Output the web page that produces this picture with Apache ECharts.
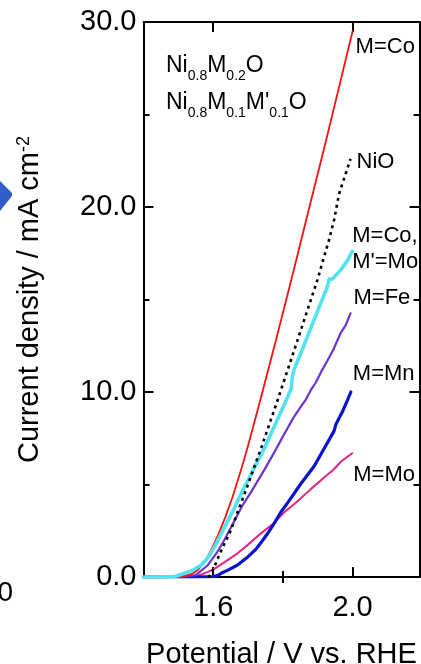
<!DOCTYPE html>
<html>
<head>
<meta charset="utf-8">
<script src="https://cdn.jsdelivr.net/npm/echarts@6/dist/echarts.min.js"></script>
<style>
html,body{margin:0;padding:0;background:#fff;}
#chart{width:421px;height:664px;}
</style>
</head>
<body>
<div id="chart"></div>
<script>
// ---- data (potential in V vs RHE, current density in mA cm^-2) ----
const coV = [1.40,1.45,1.50,1.52,1.54,1.556,1.575,1.594,1.615,1.635,1.656,1.68,1.70,1.74,1.78,1.83,1.88,1.92,1.96,2.0];
const coJ = [0,0,0.02,0.06,0.18,0.38,0.8,1.45,2.3,3.25,4.35,5.8,7.1,9.9,12.8,16.5,20.3,23.3,26.4,29.5];

const nioV = [1.585,1.592,1.60,1.62,1.651,1.694,1.74,1.785,1.842,1.87,1.899,1.918,1.932,1.947,1.961,1.975,1.994];
const nioJ = [0,0.1,0.4,1.3,2.54,4.7,7.1,9.57,12.8,14.4,16.05,17.3,18.2,19.3,20.7,21.5,22.6];

const comoV = [1.40,1.45,1.49,1.518,1.545,1.566,1.585,1.604,1.63,1.66,1.685,1.71,1.75,1.794,1.813,1.824,1.827,1.832,1.86,1.90,1.928,1.933,1.937,1.942,1.966,1.985,1.999];
const comoJ = [0,0,0.03,0.2,0.4,0.65,1.05,1.64,2.6,3.7,4.7,5.6,7.1,8.9,9.7,10.2,10.8,11.2,12.5,14.4,15.7,16.1,16.05,16.1,16.6,17.1,17.6];

const feV = [1.40,1.50,1.55,1.585,1.61,1.632,1.66,1.685,1.709,1.75,1.78,1.80,1.83,1.851,1.866,1.88,1.894,1.91,1.928,1.945,1.966,1.98,1.994];
const feJ = [0,0,0.1,0.65,1.3,2.0,3.0,3.9,4.6,5.9,6.9,7.6,8.6,9.2,9.6,10.1,10.5,11.1,11.7,12.3,13.2,13.6,14.25];

const mnV = [1.40,1.55,1.60,1.612,1.623,1.645,1.67,1.70,1.72,1.737,1.756,1.775,1.794,1.815,1.85,1.89,1.92,1.947,1.952,1.97,1.985,1.995];
const mnJ = [0,0,0.02,0.08,0.2,0.4,0.65,1.1,1.45,1.85,2.35,2.9,3.5,4.05,5.0,6.0,7.0,7.9,8.25,8.9,9.55,10.0];

const moV = [1.40,1.55,1.575,1.60,1.613,1.64,1.67,1.70,1.737,1.77,1.804,1.842,1.88,1.92,1.945,1.966,1.985,1.999];
const moJ = [0,0.02,0.2,0.4,0.56,0.9,1.28,1.75,2.36,2.85,3.5,4.1,4.75,5.4,5.8,6.23,6.5,6.69];

const seriesNames = ['M=Mo','M=Mn','M=Fe','M=Co','M=Co,\nM\'=Mo','NiO'];
const xMajorTicks = [1.6, 2.0];
const xMinorTicks = [1.8];
const xTitle = 'Potential / V vs. RHE';
const yTitle = 'Current density / mA cm{sup|-2}';

// ---- chart ----
const FONT = "'Liberation Sans', Arial, Helvetica, sans-serif";
const pairs = (xs, ys) => xs.map((x, i) => [x, ys[i]]);
const chart = echarts.init(document.getElementById('chart'), null, {renderer: 'canvas'});

const xBase = {
  type: 'value', min: 1.4, max: 2.192, interval: 0.2, gridIndex: 0,
  splitLine: {show: false}
};
const axisLineStyle = {show: true, onZero: false, lineStyle: {color: '#000', width: 2}};

function lineSeries(name, xs, ys, color, width, extra, lbl) {
  return Object.assign({
    name: name, type: 'line', data: pairs(xs, ys), xAxisIndex: 0, yAxisIndex: 0,
    showSymbol: false, symbol: 'none', smooth: false,
    lineStyle: {color: color, width: width, join: 'round', cap: 'round'},
    endLabel: Object.assign({
      show: true, formatter: name, color: '#000', fontSize: 22, fontFamily: FONT,
      lineHeight: 26
    }, lbl)
  }, extra || {});
}

const richLegend = {
  n: {fontSize: 23, fontFamily: FONT, verticalAlign: 'top', fill: '#000'},
  s: {fontSize: 14, fontFamily: FONT, verticalAlign: 'top', padding: [15, 0, 0, 0], fill: '#000'}
};

const option = {
  animation: false,
  backgroundColor: '#fff',
  grid: {left: 143.5, right: 1.5, top: 22, bottom: 87, containLabel: false, outerBoundsMode: 'none'},
  xAxis: [
    Object.assign({}, xBase, {
      position: 'bottom', axisLine: axisLineStyle,
      axisTick: {show: true, inside: true, length: 10, lineStyle: {color: '#000', width: 2}, customValues: xMajorTicks},
      axisLabel: {show: true, customValues: xMajorTicks, formatter: v => v.toFixed(1), color: '#000', fontSize: 29, fontFamily: FONT, margin: 16},
      name: xTitle, nameLocation: 'middle', nameGap: 63,
      nameTextStyle: {color: '#000', fontSize: 29, fontFamily: FONT}
    }),
    Object.assign({}, xBase, {
      position: 'bottom', axisLine: {show: false},
      axisTick: {show: true, inside: true, length: 6, lineStyle: {color: '#000', width: 2}, customValues: xMinorTicks},
      axisLabel: {show: false}
    }),
    Object.assign({}, xBase, {
      position: 'top', axisLine: axisLineStyle,
      axisTick: {show: true, inside: true, length: 10, lineStyle: {color: '#000', width: 2}, customValues: xMajorTicks},
      axisLabel: {show: false}
    }),
    Object.assign({}, xBase, {
      position: 'top', axisLine: {show: false},
      axisTick: {show: true, inside: true, length: 6, lineStyle: {color: '#000', width: 2}, customValues: xMinorTicks},
      axisLabel: {show: false}
    })
  ],
  yAxis: [
    {
      type: 'value', min: 0, max: 30, interval: 10, position: 'left',
      axisLine: axisLineStyle, splitLine: {show: false},
      axisTick: {show: true, inside: true, length: 10, lineStyle: {color: '#000', width: 2}},
      minorTick: {show: true, splitNumber: 2, length: 6, lineStyle: {color: '#000', width: 2}},
      axisLabel: {formatter: v => v.toFixed(1), color: '#000', fontSize: 29, fontFamily: FONT, margin: 7},
      name: yTitle, nameLocation: 'middle', nameGap: 99,
      nameTextStyle: {color: '#000', fontSize: 29, fontFamily: FONT,
        rich: {sup: {fontSize: 18, fontFamily: FONT, color: '#000', verticalAlign: 'top', lineHeight: 26}}}
    },
    {
      type: 'value', min: 0, max: 30, interval: 10, position: 'right',
      axisLine: axisLineStyle, splitLine: {show: false},
      axisTick: {show: true, inside: true, length: 10, lineStyle: {color: '#000', width: 2}},
      minorTick: {show: true, splitNumber: 2, length: 6, lineStyle: {color: '#000', width: 2}},
      axisLabel: {show: false}
    }
  ],
  series: [
    lineSeries(seriesNames[0], moV, moJ, '#e6267f', 2, null, {distance: 1, offset: [0, 22]}),
    lineSeries(seriesNames[1], mnV, mnJ, '#0a14d0', 3.2, null, {distance: 2, offset: [0, -18]}),
    lineSeries(seriesNames[2], feV, feJ, '#6a35d2', 2.2, null, {distance: 3, offset: [0, -15]}),
    lineSeries(seriesNames[3], coV, coJ, '#ff1010', 1.8, null, {distance: 3, offset: [0, 16]}),
    lineSeries(seriesNames[4], comoV, comoJ, '#52e3f0', 3.6, null, {distance: 0, offset: [0, -2]}),
    lineSeries(seriesNames[5], nioV, nioJ, '#000', 2.6, {lineStyle: {color: '#000', width: 2.6, type: [3, 4]}}, {distance: 6, offset: [0, 3]})
  ],
  graphic: [
    {type: 'text', left: 166, top: 54, style: {
      text: '{n|Ni}{s|0.8}{n|M}{s|0.2}{n|O}', fill: '#000', rich: richLegend
    }},
    {type: 'text', left: 166, top: 91, style: {
      text: '{n|Ni}{s|0.8}{n|M}{s|0.1}{n|M\'}{s|0.1}{n|O}', fill: '#000', rich: richLegend
    }},
    {type: 'polygon', shape: {points: [[0, 181], [12, 193], [12, 196], [0, 211]]}, style: {fill: '#2f5fc6'}},
    {type: 'text', x: 13, y: 579, style: {text: '0', fill: '#000', fontSize: 28, fontFamily: FONT, align: 'right', verticalAlign: 'top'}}
  ]
};
chart.setOption(option);
</script>
</body>
</html>
